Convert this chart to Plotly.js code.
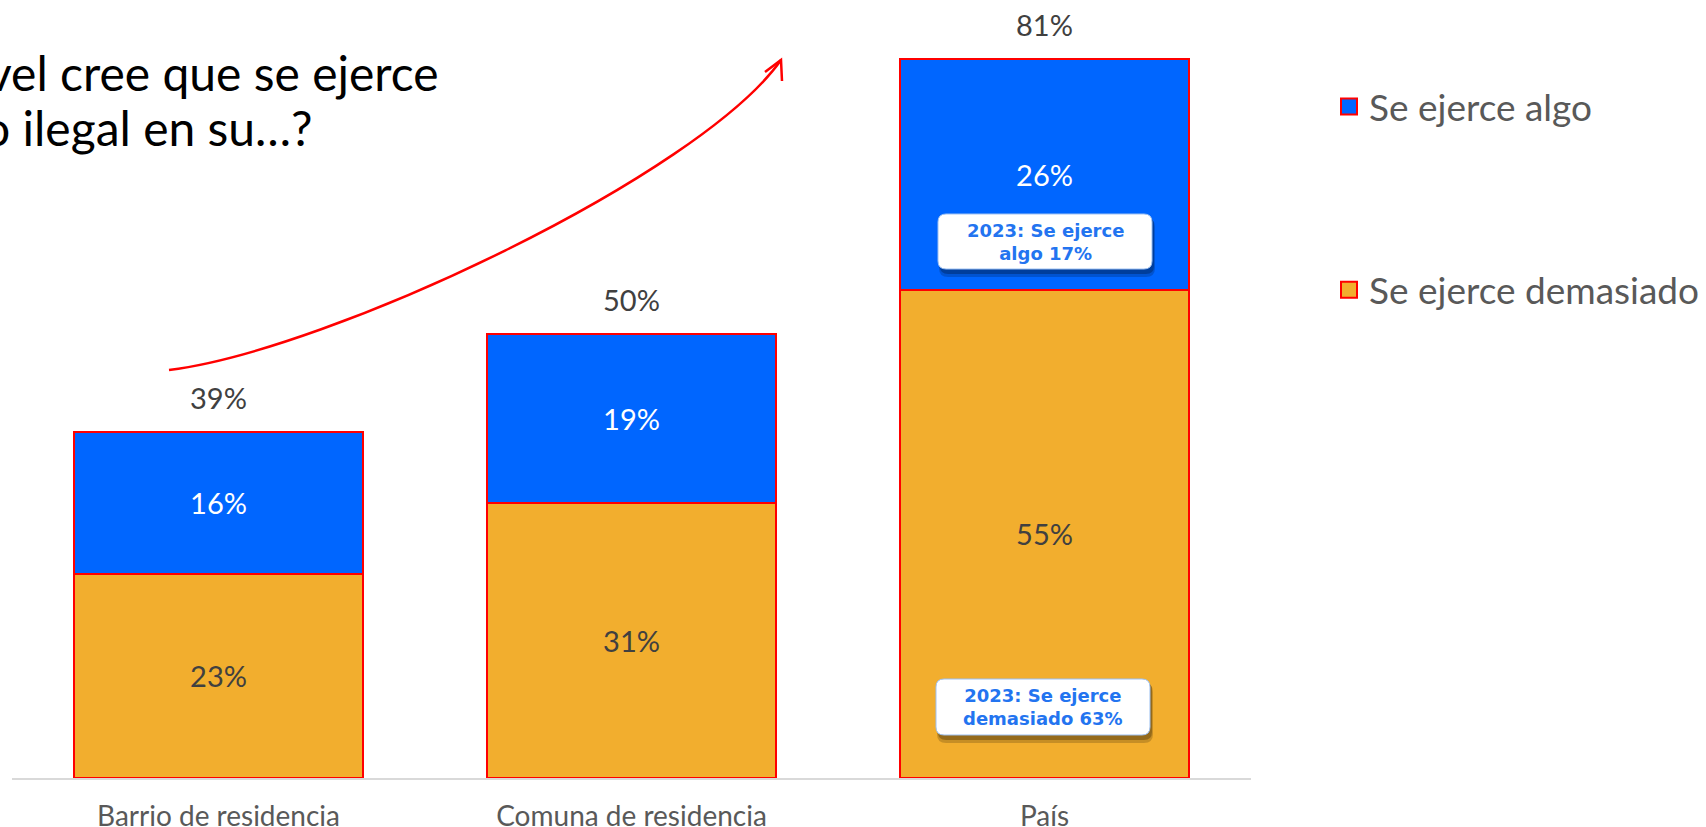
<!DOCTYPE html>
<html>
<head>
<meta charset="utf-8">
<script src="https://cdn.plot.ly/plotly-3.0.1.min.js"></script>
<style>
  html, body { margin: 0; padding: 0; background: #ffffff; }
  #chart { width: 1706px; height: 827px; }
</style>
</head>
<body>
<div id="chart"></div>
<script>
// ---- data ----
const categories = ["Barrio de residencia", "Comuna de residencia", "País"];
const demasiado = [23, 31, 55];   // Se ejerce demasiado
const algo = [16, 19, 26];        // Se ejerce algo
const totals = [39, 50, 81];
const seriesNames = ["Se ejerce demasiado", "Se ejerce algo"];
const seriesColors = ["#F2AE2E", "#0066FF"];
const calloutTexts = ["2023: Se ejerce<br>algo 17%", "2023: Se ejerce<br>demasiado 63%"];
const titleLines = ["vel cree que se ejerce", "o ilegal en su…?"];

const pct = v => v + "%";
const FONT = "Lato, 'Open Sans', sans-serif";
const CFONT = "'DejaVu Sans', Verdana, sans-serif";

const barLine = { color: "#FF0000", width: 2 };
const traces = [
  {
    type: "bar", name: seriesNames[0], x: categories, y: demasiado,
    text: demasiado.map(pct), textposition: "inside", insidetextanchor: "middle", textangle: 0,
    textfont: { family: FONT, size: 29, color: "#404040" },
    marker: { color: seriesColors[0], line: barLine },
    showlegend: false, hoverinfo: "skip"
  },
  {
    type: "bar", name: seriesNames[1], x: categories, y: algo,
    text: algo.map(pct), textposition: "inside", insidetextanchor: "middle", textangle: 0,
    textfont: { family: FONT, size: 29, color: "#FFFFFF" },
    marker: { color: seriesColors[1], line: barLine },
    showlegend: false, hoverinfo: "skip"
  },
  // legend entries (larger square swatches)
  {
    type: "scatter", mode: "markers", name: seriesNames[1], x: [null], y: [null],
    marker: { symbol: "square", size: 16, color: seriesColors[1], line: { color: "#FF0000", width: 2 } },
    legendgroup: "a", hoverinfo: "skip"
  },
  {
    type: "scatter", mode: "markers", name: seriesNames[0], x: [null], y: [null],
    marker: { symbol: "square", size: 16, color: seriesColors[0], line: { color: "#FF0000", width: 2 } },
    legendgroup: "b", hoverinfo: "skip"
  }
];

// plot area geometry helpers (paper coordinates from pixel positions)
const L = 12, R = 455, T = 0, B = 49, W = 1706, H = 827;
const PW = W - L - R, PH = H - T - B;
const px = x => (x - L) / PW;
const py = y => 1 - (y - T) / PH;
const P = (x, y) => px(x).toFixed(5) + "," + py(y).toFixed(5);

function roundRect(x0, y0, x1, y1, r) {
  return "M" + P(x0 + r, y0) + " L" + P(x1 - r, y0) +
    " Q" + P(x1, y0) + " " + P(x1, y0 + r) +
    " L" + P(x1, y1 - r) + " Q" + P(x1, y1) + " " + P(x1 - r, y1) +
    " L" + P(x0 + r, y1) + " Q" + P(x0, y1) + " " + P(x0, y1 - r) +
    " L" + P(x0, y0 + r) + " Q" + P(x0, y0) + " " + P(x0 + r, y0) + " Z";
}

const boxes = [
  { x0: 938, y0: 214, x1: 1152, y1: 269 },
  { x0: 936, y0: 679, x1: 1150, y1: 735 }
];

const annotations = [];
// totals above bars
categories.forEach((c, i) => {
  annotations.push({
    x: c, y: totals[i], xref: "x", yref: "y",
    text: pct(totals[i]), showarrow: false, yshift: 34,
    font: { family: FONT, size: 29, color: "#404040" }
  });
});
// callout texts
boxes.forEach((b, i) => {
  annotations.push({
    xref: "paper", yref: "paper",
    x: px((b.x0 + b.x1) / 2), y: py((b.y0 + b.y1) / 2),
    xanchor: "center", yanchor: "middle",
    text: "<b>" + calloutTexts[i] + "</b>", showarrow: false,
    font: { family: CFONT, size: 18, color: "#2374F0" }
  });
});
// title fragments
annotations.push({
  xref: "paper", yref: "paper", x: px(441), y: py(72), xanchor: "right", yanchor: "middle",
  text: titleLines[0], showarrow: false, font: { family: FONT, size: 48, color: "#000000" }
});
annotations.push({
  xref: "paper", yref: "paper", x: px(315), y: py(127), xanchor: "right", yanchor: "middle",
  text: titleLines[1], showarrow: false, font: { family: FONT, size: 48, color: "#000000" }
});

const shapes = [
  // red curved arrow
  {
    type: "path", xref: "paper", yref: "paper", layer: "above",
    path: "M" + P(169, 370) + " C" + P(330, 350) + " " + P(700, 175) + " " + P(781, 60),
    line: { color: "#FF0000", width: 2.5 }
  },
  {
    type: "path", xref: "paper", yref: "paper", layer: "above",
    path: "M" + P(765, 72) + " L" + P(781, 60) + " L" + P(782, 81),
    line: { color: "#FF0000", width: 2.5 }
  }
];
// callout boxes with soft shadow
boxes.forEach(b => {
  shapes.push({
    type: "path", xref: "paper", yref: "paper", layer: "above",
    path: roundRect(b.x0 + 1, b.y0 + 4, b.x1 + 3, b.y1 + 8, 9),
    fillcolor: "rgba(0,0,0,0.18)", line: { width: 0 }
  });
  shapes.push({
    type: "path", xref: "paper", yref: "paper", layer: "above",
    path: roundRect(b.x0 + 2, b.y0 + 3, b.x1 + 2, b.y1 + 5, 8),
    fillcolor: "rgba(0,0,0,0.25)", line: { width: 0 }
  });
  shapes.push({
    type: "path", xref: "paper", yref: "paper", layer: "above",
    path: roundRect(b.x0, b.y0, b.x1, b.y1, 8),
    fillcolor: "#FFFFFF", line: { color: "#9CC0F2", width: 1 }
  });
});

const layout = {
  width: W, height: H,
  margin: { l: L, r: R, t: T, b: B },
  paper_bgcolor: "#FFFFFF",
  plot_bgcolor: "#FFFFFF",
  barmode: "stack",
  bargap: 0.3,
  font: { family: FONT, color: "#595959" },
  xaxis: {
    type: "category",
    showgrid: false,
    showline: true, linecolor: "#D9D9D9", linewidth: 2,
    ticks: "outside", ticklen: 12, tickcolor: "rgba(0,0,0,0)",
    tickfont: { family: FONT, size: 28, color: "#595959" },
    zeroline: false, fixedrange: true
  },
  yaxis: {
    range: [0, 87.6],
    visible: false,
    showgrid: false, zeroline: false, fixedrange: true
  },
  showlegend: true,
  legend: {
    x: px(1329), xanchor: "left",
    y: py(76), yanchor: "top",
    traceorder: "grouped",
    tracegroupgap: 132,
    itemsizing: "trace",
    font: { family: FONT, size: 37, color: "#595959" },
    bgcolor: "rgba(0,0,0,0)",
    itemclick: false, itemdoubleclick: false
  },
  annotations: annotations,
  shapes: shapes,
  hovermode: false
};

Plotly.newPlot("chart", traces, layout, { displayModeBar: false, staticPlot: true });
</script>
</body>
</html>
